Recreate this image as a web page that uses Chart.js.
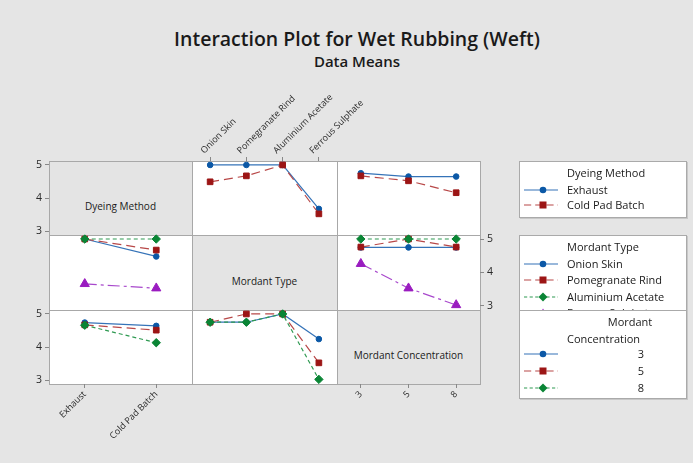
<!DOCTYPE html>
<html>
<head>
<meta charset="utf-8">
<script src="https://cdn.jsdelivr.net/npm/chart.js@4.4.1/dist/chart.umd.min.js"></script>
<style>
  body { margin: 0; width: 693px; height: 463px; background: #e5e5e5; position: relative; overflow: hidden;
         font-family: 'Open Sans', sans-serif; color: #1a1a1a; }
  canvas { position: absolute; }
  .cell { position: absolute; box-sizing: border-box; border: 1px solid #a8a8a8; }
  .diag { position: absolute; font-size: 10px; text-align: center; white-space: nowrap; transform: translate(-50%, -50%); }
  .title { position: absolute; left: 357px; top: 25px; transform: translateX(-50%); font-size: 19.5px; font-weight: 600; white-space: nowrap; }
  .sub { position: absolute; left: 357px; top: 51px; transform: translateX(-50%); font-size: 15px; font-weight: 600; white-space: nowrap; }
  .lbox { position: absolute; left: 519px; width: 168px; box-sizing: border-box; background: #fff; border: 1px solid #aaa;
          box-shadow: 1px 1px 0 #c8c8c8; overflow: hidden; }
  .ltxt { position: absolute; font-size: 11px; white-space: nowrap; line-height: 14px; }
  .lsym { position: absolute; left: 3px; line-height: 0; }
  .lsym svg { display: block; }
</style>
</head>
<body>
<div class="title">Interaction Plot for Wet Rubbing (Weft)</div>
<div class="sub">Data Means</div>
<script>
const dyeingMethods = ['Exhaust', 'Cold Pad Batch'];
const mordantTypes = ['Onion Skin', 'Pomegranate Rind', 'Aluminium Acetate', 'Ferrous Sulphate'];
const concentrations = ['3', '5', '8'];
const yTicks = [3, 4, 5];

// top row: one trace per dyeing method
const dyeByType = [[5.0, 5.0, 5.0, 3.67], [4.49, 4.67, 5.0, 3.52]];
const dyeByConc = [[4.75, 4.65, 4.65], [4.67, 4.52, 4.16]];
// middle row: one trace per mordant type
const typeByDye = [[5.0, 4.48], [5.0, 4.67], [5.0, 5.0], [3.66, 3.53]];
const typeByConc = [[4.75, 4.75, 4.75], [4.76, 5.0, 4.76], [5.0, 5.0, 5.0], [4.26, 3.53, 3.03]];
// bottom row: one trace per concentration
const concByDye = [[4.74, 4.64], [4.67, 4.51], [4.66, 4.13]];
const concByType = [[4.75, 4.75, 5.0, 4.24], [4.75, 5.0, 5.0, 3.52], [4.75, 4.75, 5.0, 3.02]];

const styles = [
  { color: '#0b58a6', line: '#3573b8', dash: [], point: 'circle', r: 2.8 },
  { color: '#9c1515', line: '#b84848', dash: [9, 5], point: 'rect', r: 4 },
  { color: '#0a8535', line: '#2f9a52', dash: [4, 3], point: 'rectRot', r: 4.2 },
  { color: '#9a1cc0', line: '#a848cc', dash: [12, 4, 3, 4], point: 'triangle', r: 5.3 },
];

const colX = [49, 192, 337, 480];
const rowY = [161, 235, 310, 384];
const yMin = 2.88, yMax = 5.12;
const tickFont = { family: 'Open Sans', size: 9 };

// panel frames
const diagNames = ['Dyeing Method', 'Mordant Type', 'Mordant Concentration'];
for (let r = 0; r < 3; r++) {
  for (let c = 0; c < 3; c++) {
    const d = document.createElement('div');
    d.className = 'cell';
    d.style.left = colX[c] + 'px';
    d.style.top = rowY[r] + 'px';
    d.style.width = (colX[c + 1] - colX[c] + 1) + 'px';
    d.style.height = (rowY[r + 1] - rowY[r] + 1) + 'px';
    d.style.background = r === c ? '#e4e4e4' : '#fff';
    document.body.appendChild(d);
  }
}
for (let i = 0; i < 3; i++) {
  const t = document.createElement('div');
  t.className = 'diag';
  t.textContent = diagNames[i];
  t.style.left = (colX[i] + colX[i + 1]) / 2 + 'px';
  t.style.top = ((rowY[i] + rowY[i + 1]) / 2 + 8) + 'px';
  document.body.appendChild(t);
}

function xScale(pos, size) {
  if (!pos) return { type: 'category', offset: true, display: false };
  return {
    type: 'category', position: pos, offset: true,
    grid: { display: true, drawOnChartArea: false, drawTicks: true, tickLength: 4, color: '#888', offset: false },
    border: { display: false },
    ticks: { font: tickFont, color: '#2a2a2a', minRotation: 45, maxRotation: 45, padding: 1, autoSkip: false },
    afterFit: s => { s.height = size; s.paddingLeft = 0; s.paddingRight = 0; },
  };
}

function yScale(pos, size) {
  if (!pos) return { type: 'linear', min: yMin, max: yMax, display: false };
  return {
    type: 'linear', min: yMin, max: yMax, position: pos,
    grid: { display: true, drawOnChartArea: false, drawTicks: true, tickLength: 4, color: '#888' },
    border: { display: false },
    ticks: { font: { family: 'Open Sans', size: 10.5 }, color: '#2a2a2a', padding: 3 },
    afterBuildTicks: s => { s.ticks = yTicks.map(v => ({ value: v })); },
    afterFit: s => { s.width = size; s.paddingTop = 0; s.paddingBottom = 0; },
  };
}

function addPanel(c, r, groups, xLabels, series, xPos, yPos) {
  const m = { l: 40, r: 80, t: 95, b: 80 };
  const w = colX[c + 1] - colX[c], h = rowY[r + 1] - rowY[r];
  const cv = document.createElement('canvas');
  cv.width = w + m.l + m.r;
  cv.height = h + m.t + m.b;
  cv.style.left = (colX[c] - m.l) + 'px';
  cv.style.top = (rowY[r] - m.t) + 'px';
  document.body.appendChild(cv);
  const datasets = series.map((vals, i) => ({
    label: groups[i],
    data: vals,
    borderColor: styles[i].line,
    backgroundColor: styles[i].color,
    pointBackgroundColor: styles[i].color,
    pointBorderColor: styles[i].color,
    pointStyle: styles[i].point,
    pointRadius: styles[i].r,
    pointBorderWidth: 1,
    borderWidth: 1.2,
    borderDash: styles[i].dash,
    tension: 0,
    clip: false,
    order: -i,
  }));
  const pad = {
    left: yPos === 'left' ? 0 : m.l,
    right: yPos === 'right' ? 0 : m.r,
    top: xPos === 'top' ? 0 : m.t,
    bottom: xPos === 'bottom' ? 0 : m.b,
  };
  new Chart(cv, {
    type: 'line',
    data: { labels: xLabels, datasets: datasets },
    options: {
      responsive: false,
      animation: false,
      layout: { padding: pad, autoPadding: false },
      plugins: { legend: { display: false }, tooltip: { enabled: false } },
      scales: {
        x: xScale(xPos, xPos === 'top' ? m.t : m.b),
        y: yScale(yPos, yPos === 'right' ? m.r : m.l),
      },
    },
  });
}

addPanel(0, 0, [], dyeingMethods, [], null, 'left');
addPanel(1, 0, dyeingMethods, mordantTypes, dyeByType, 'top', null);
addPanel(2, 0, dyeingMethods, concentrations, dyeByConc, null, null);
addPanel(0, 1, mordantTypes, dyeingMethods, typeByDye, null, null);
addPanel(2, 1, mordantTypes, concentrations, typeByConc, null, 'right');
addPanel(0, 2, concentrations, dyeingMethods, concByDye, 'bottom', 'left');
addPanel(1, 2, concentrations, mordantTypes, concByType, null, null);
addPanel(2, 2, [], concentrations, [], 'bottom', null);

// legends
function symbol(st) {
  const dash = st.dash.length ? st.dash.map(v => v * 0.8).join(',') : 'none';
  let mark;
  const cx = 20, cy = 5;
  if (st.point === 'circle') mark = `<circle cx="${cx}" cy="${cy}" r="3.3" fill="${st.color}"/>`;
  else if (st.point === 'rect') mark = `<rect x="${cx - 3.5}" y="${cy - 3.5}" width="7" height="7" fill="${st.color}"/>`;
  else if (st.point === 'rectRot') mark = `<polygon points="${cx},${cy - 4.5} ${cx + 4.5},${cy} ${cx},${cy + 4.5} ${cx - 4.5},${cy}" fill="${st.color}"/>`;
  else mark = `<polygon points="${cx},${cy - 4.5} ${cx + 4.5},${cy + 3.5} ${cx - 4.5},${cy + 3.5}" fill="${st.color}"/>`;
  return `<svg width="36" height="10"><line x1="1" y1="5" x2="35" y2="5" stroke="${st.line}" stroke-width="1.2" stroke-dasharray="${dash}"/>${mark}</svg>`;
}

function legendBox(top, height, titleLines, items, rowTops, numeric) {
  const box = document.createElement('div');
  box.className = 'lbox';
  box.style.top = top + 'px';
  box.style.height = height + 'px';
  let html = '';
  titleLines.forEach(t => {
    const style = t.center ? `left:0;width:${168 - 2 * 26}px;padding-left:52px;text-align:center;` : 'left:47px;';
    html += `<div class="ltxt" style="${style}top:${t.y - top - 8}px">${t.text}</div>`;
  });
  items.forEach((name, i) => {
    const y = rowTops[i] - top;
    html += `<div class="lsym" style="top:${y - 6}px">${symbol(styles[i])}</div>`;
    if (numeric) html += `<div class="ltxt" style="left:0;width:124px;text-align:right;top:${y - 8}px">${name}</div>`;
    else html += `<div class="ltxt" style="left:47px;top:${y - 8}px">${name}</div>`;
  });
  box.innerHTML = html;
  document.body.appendChild(box);
}

legendBox(161, 57, [{ text: 'Dyeing Method', y: 173 }], dyeingMethods, [190, 205], false);
legendBox(235, 95, [{ text: 'Mordant Type', y: 247 }], mordantTypes, [264, 280, 297, 313], false);
legendBox(310, 89, [{ text: 'Mordant', y: 322, center: true }, { text: 'Concentration', y: 339 }], concentrations, [354, 371, 388], true);
</script>
</body>
</html>
